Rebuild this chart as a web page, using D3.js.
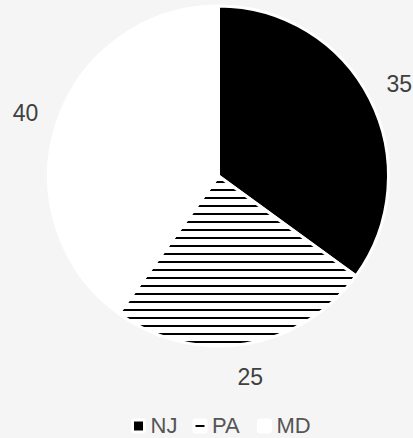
<!DOCTYPE html>
<html>
<head>
<meta charset="utf-8">
<script src="https://cdn.jsdelivr.net/npm/d3@7"></script>
<style>
  body { margin: 0; background: #f5f5f5; }
  svg { display: block; font-family: "Liberation Sans", Arial, sans-serif; }
</style>
</head>
<body>
<div id="chart-area"></div>
<script>
// Data
var states = ["NJ", "PA", "MD"];
var values = [35, 25, 40];
var fills = ["#000000", "url(#hatch)", "#ffffff"];

var width = 413, height = 438;
var cx = 218.5, cy = 176, radius = 170;

var svg = d3.select("#chart-area")
	.append("svg")
		.attr("width", width)
		.attr("height", height);

svg.append("rect")
	.attr("width", width)
	.attr("height", height)
	.attr("fill", "#f5f5f5");

// Horizontal hatch pattern for PA
var pattern = svg.append("defs")
	.append("pattern")
		.attr("id", "hatch")
		.attr("patternUnits", "userSpaceOnUse")
		.attr("width", 8)
		.attr("height", 8);
pattern.append("rect")
	.attr("width", 8)
	.attr("height", 8)
	.attr("fill", "#ffffff");
pattern.append("rect")
	.attr("y", 5)
	.attr("width", 8)
	.attr("height", 2)
	.attr("fill", "#000000");

var data = states.map((s, i) => {
	return { state: s, value: values[i], fill: fills[i] };
});

var pie = d3.pie()
	.sort(null)
	.value((d) => d.value);

var arc = d3.arc()
	.innerRadius(0)
	.outerRadius(radius);

var labelArc = d3.arc()
	.innerRadius(203)
	.outerRadius(203);

var g = svg.append("g")
	.attr("transform", `translate(${cx},${cy})`);

g.selectAll("path")
	.data(pie(data))
	.enter()
	.append("path")
		.attr("d", arc)
		.attr("fill", (d) => d.data.fill)
		.attr("stroke", "#ffffff")
		.attr("stroke-width", 3)
		.attr("stroke-linejoin", "round");

g.selectAll("text.label")
	.data(pie(data))
	.enter()
	.append("text")
		.attr("class", "label")
		.attr("x", (d) => labelArc.centroid(d)[0])
		.attr("y", (d) => labelArc.centroid(d)[1])
		.attr("text-anchor", "middle")
		.attr("dy", "0.35em")
		.attr("font-size", 23)
		.attr("fill", "#404040")
		.text((d) => d.data.value);

// Legend
var legendX = d3.scaleOrdinal()
	.domain(states)
	.range([132.5, 194, 258.5]);

var legend = svg.selectAll("g.legend")
	.data(data)
	.enter()
	.append("g")
		.attr("class", "legend")
		.attr("transform", (d) => `translate(${legendX(d.state)},420)`);

legend.append("rect")
	.attr("width", 12)
	.attr("height", 12)
	.attr("rx", 1.5)
	.attr("fill", (d) => d.fill)
	.attr("stroke", "#ffffff")
	.attr("stroke-width", 3);

legend.append("text")
	.attr("x", 18)
	.attr("y", 13)
	.attr("font-size", 22)
	.attr("fill", "#555555")
	.text((d) => d.state);
</script>
</body>
</html>
